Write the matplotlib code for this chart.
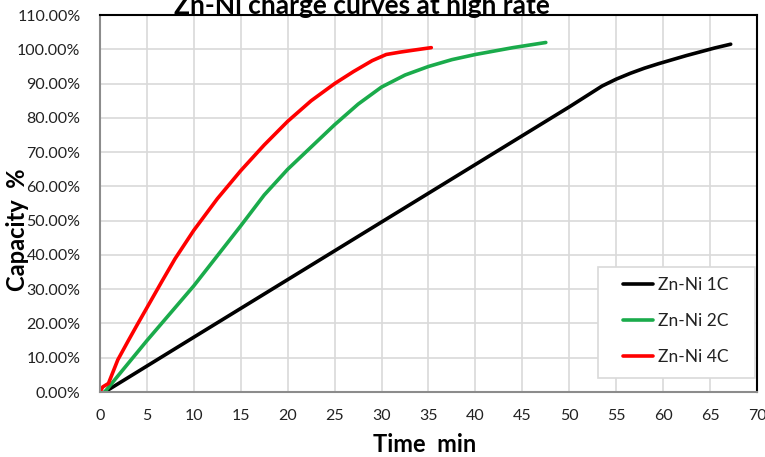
import matplotlib
matplotlib.use("Agg")
from matplotlib import pyplot as plt
from matplotlib.patches import Rectangle
from matplotlib.ticker import FuncFormatter, MultipleLocator

plt.rcParams['font.family'] = ['Lato', 'DejaVu Sans']

title = "Zn-Ni charge curves at high rate"

# Zn-Ni 1C
t_1c = [0.5, 10, 20, 30, 40, 50, 53.5, 55, 56.5, 58, 59.5, 61, 62.5, 64, 65.5, 67.2]
cap_1c = [0, 16, 32.8, 49.6, 66.4, 83.2, 89.3, 91.3, 93.0, 94.5, 95.8, 97.0, 98.2, 99.3, 100.4, 101.5]
# Zn-Ni 2C
t_2c = [0.5, 5, 10, 15, 17.5, 20, 22.5, 25, 27.5, 30, 32.5, 35, 37.5, 40, 44, 47.5]
cap_2c = [0, 15, 31, 48.5, 57.5, 65, 71.5, 78, 84, 89, 92.5, 95, 97, 98.5, 100.5, 102]
# Zn-Ni 4C
t_4c = [0, 0.3, 0.9, 1.9, 3, 4, 5, 6.6, 8, 10, 12.5, 15, 17.5, 20, 22.5, 25, 27, 29, 30.5, 32, 33.5, 35.3]
cap_4c = [0, 1.5, 2.5, 9.4, 14.9, 19.8, 24.6, 32.3, 38.9, 47.2, 56.4, 64.6, 72.1, 79, 85, 90, 93.5, 96.7, 98.5, 99.2, 99.8, 100.5]

fig = plt.figure(figsize=(7.65, 4.57), dpi=100)
ax = fig.add_axes([0.1307, 0.1422, 0.8588, 0.8248])

kw = dict(lw=2.6, solid_capstyle='round', solid_joinstyle='round')
ax.plot(t_1c, cap_1c, color='black', label='Zn-Ni 1C', **kw)
ax.plot(t_2c, cap_2c, color='#1aab4b', label='Zn-Ni 2C', **kw)
ax.plot(t_4c, cap_4c, color='#ff0000', label='Zn-Ni 4C', **kw)

ax.set_xlim(0, 70)
ax.set_ylim(0, 110)
ax.xaxis.set_major_locator(MultipleLocator(5))
ax.yaxis.set_major_locator(MultipleLocator(10))
ax.yaxis.set_major_formatter(FuncFormatter(lambda v, p: "%.2f%%" % v))
ax.grid(True, color='#d9d9d9', lw=1.2)
ax.set_axisbelow(True)
ax.tick_params(length=0, labelsize=11.5, colors='#222222')
ax.tick_params(axis='x', pad=12)
ax.tick_params(axis='y', pad=14)
for s in ['left', 'bottom']:
    ax.spines[s].set_color('#8c8c8c')
    ax.spines[s].set_linewidth(1.5)
for s in ['top', 'right']:
    ax.spines[s].set_color('black')
    ax.spines[s].set_linewidth(1.5)

ax.set_xlabel("Time  min", fontsize=17, fontweight='bold', labelpad=0)
ax.set_ylabel("Capacity  %", fontsize=17, fontweight='bold', labelpad=0)
ax.xaxis.set_label_coords(0.494, -0.108)
ax.yaxis.set_label_coords(-0.108, 0.43)

# legend box (Excel style: wide frame, entries inside)
ax.add_patch(Rectangle((0.758, 0.037), 0.239, 0.295, transform=ax.transAxes,
                       facecolor='white', edgecolor='#d9d9d9', lw=1.2, zorder=4))
leg = ax.legend(loc='center left', bbox_to_anchor=(0.796, 0.188), fontsize=12.5,
                handlelength=1.75, handletextpad=0.25, labelspacing=1.15,
                borderpad=0, borderaxespad=0, frameon=False)
leg.set_zorder(5)
for t in leg.get_texts():
    t.set_color('#222222')

fig.text(362 / 765, 1 - 6 / 457, title, ha='center', va='center',
         fontsize=19, fontweight='bold')

fig.savefig("out.png", dpi=100)
